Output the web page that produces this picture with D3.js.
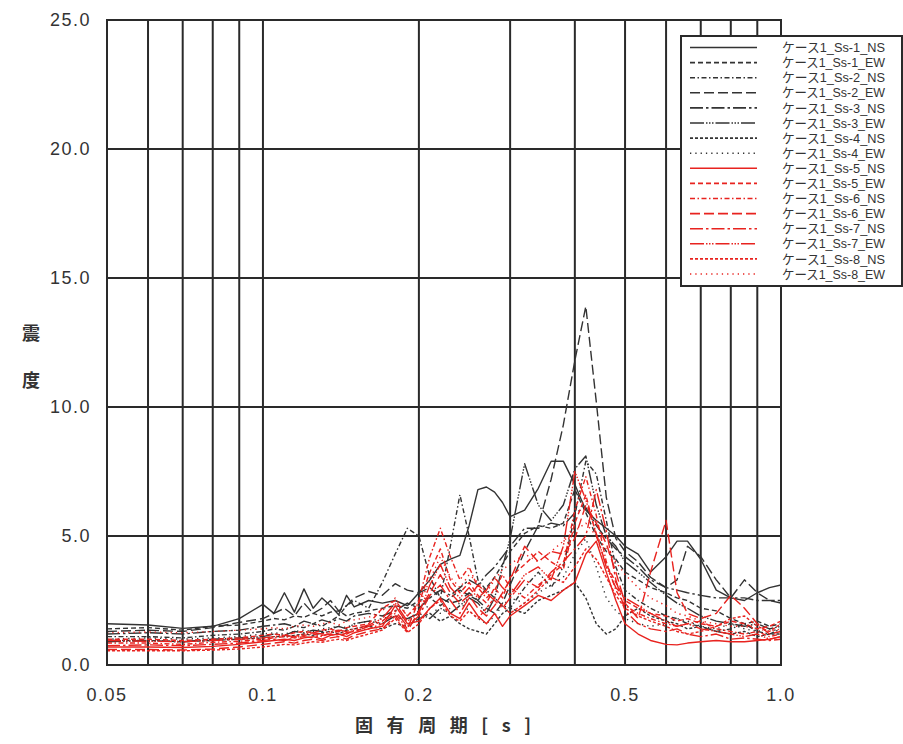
<!DOCTYPE html>
<html><head><meta charset="utf-8">
<script src="https://cdn.jsdelivr.net/npm/d3@7"></script>
<style>
html,body{margin:0;padding:0;background:#fff;}
svg{display:block;}
</style></head>
<body>
<svg id="chart" width="903" height="744"></svg>
<script>
// ---------- data ----------
const periods = [0.05,0.06,0.07,0.08,0.09,0.1,0.105,0.11,0.115,0.12,0.125,0.13,0.135,0.14,0.145,0.15,0.16,0.17,0.18,0.19,0.2,0.21,0.22,0.23,0.24,0.25,0.26,0.27,0.28,0.29,0.3,0.32,0.34,0.36,0.38,0.4,0.42,0.44,0.46,0.48,0.5,0.53,0.56,0.6,0.63,0.66,0.7,0.75,0.8,0.85,0.9,0.95,1.0];

const ss1NS = [1.6,1.55,1.42,1.5,1.8,2.35,2.0,2.8,2.05,2.95,2.2,2.6,2.3,1.95,2.7,2.25,2.5,2.4,2.5,2.3,2.8,3.3,3.9,4.1,4.25,5.4,6.8,6.9,6.7,6.3,5.75,6.0,6.85,7.9,7.9,7.0,6.0,5.6,5.3,5.0,4.6,4.3,3.6,4.2,4.8,4.8,4.1,2.9,2.6,2.5,2.8,3.0,3.1];
const ss1EW = [1.4,1.45,1.35,1.5,1.55,1.7,1.8,1.75,1.9,1.85,2.0,1.9,2.05,2.1,1.9,2.0,2.1,2.2,2.3,2.2,2.5,2.6,2.3,2.6,2.9,2.7,2.5,3.0,3.4,3.9,4.4,5.1,5.4,5.3,5.5,6.8,5.9,5.0,4.4,4.1,3.6,3.3,3.0,2.8,2.6,2.5,2.2,2.1,1.8,1.6,1.7,1.5,1.6];
const ss2NS = [1.1,1.1,1.05,1.15,1.2,1.3,1.4,1.35,1.5,1.45,1.6,1.5,1.7,1.9,2.3,2.5,2.2,3.2,4.3,5.3,5.0,3.4,2.6,4.6,6.6,5.0,3.3,2.9,2.6,2.3,2.2,3.0,3.6,3.0,3.8,5.8,7.9,7.4,5.6,3.8,2.9,2.5,2.2,1.9,1.8,1.6,1.5,1.3,1.4,1.6,1.3,1.2,1.4];
const ss2EW = [1.3,1.35,1.3,1.45,1.65,1.8,2.0,2.2,1.9,2.4,2.0,2.2,2.5,2.1,2.3,2.6,2.85,2.7,3.15,2.9,2.8,3.0,2.6,2.4,2.5,2.8,2.5,2.2,2.0,2.4,3.1,4.4,5.4,7.2,9.3,11.8,13.9,10.2,6.5,4.9,4.4,4.0,3.4,3.0,3.3,4.6,4.2,3.3,2.6,3.3,2.8,2.5,2.4];
const ss3NS = [1.2,1.25,1.2,1.3,1.35,1.5,1.55,1.6,1.5,1.7,1.6,1.75,1.65,1.8,1.7,1.9,2.0,1.9,2.1,2.4,2.2,2.6,2.9,2.7,3.0,3.3,3.1,3.5,3.8,4.2,4.6,5.3,5.3,5.5,5.4,5.9,6.1,5.4,4.9,4.5,4.2,3.8,3.3,3.0,2.9,2.8,2.7,2.6,2.6,2.6,2.5,2.5,2.5];
const ss3EW = [0.9,0.95,0.9,1.0,1.05,1.1,1.2,1.15,1.3,1.25,1.35,1.3,1.4,1.5,1.4,1.6,1.7,1.6,1.9,1.8,2.0,1.8,2.2,2.0,2.3,2.6,2.4,2.0,2.6,3.8,4.9,7.8,6.2,5.6,6.2,7.6,8.1,6.2,5.0,4.6,4.0,3.6,3.2,2.7,2.4,2.2,1.9,1.7,1.6,1.5,1.6,1.4,1.5];
const ss4NS = [0.95,0.95,0.9,0.95,1.0,1.05,1.1,1.1,1.15,1.2,1.15,1.25,1.3,1.2,1.35,1.4,1.5,1.4,1.6,1.5,1.8,2.0,1.7,1.9,1.6,1.4,1.3,1.2,1.6,2.0,2.2,2.0,2.5,2.7,2.9,3.2,2.6,1.6,1.2,1.4,1.9,2.2,1.9,1.7,1.6,1.4,1.5,1.3,1.2,1.3,1.1,1.2,1.2];
const ss4EW = [1.0,1.05,1.0,1.05,1.1,1.2,1.25,1.2,1.3,1.35,1.3,1.4,1.45,1.5,1.45,1.6,1.7,1.8,1.9,1.7,2.1,2.3,2.0,2.2,2.4,2.1,1.8,1.6,1.9,2.3,2.6,2.4,2.8,3.1,3.4,4.3,4.9,3.8,2.6,2.1,1.8,1.6,1.5,1.6,1.8,1.7,1.5,1.4,1.6,1.4,1.3,1.4,1.3];
const ss5NS = [0.7,0.7,0.68,0.72,0.8,0.9,0.95,1.0,0.95,1.05,1.1,1.0,1.15,1.2,1.1,1.25,1.4,1.5,2.3,1.6,1.7,2.2,2.6,2.0,1.8,2.4,1.9,1.6,2.0,1.5,1.9,2.3,2.7,2.5,2.9,3.2,4.3,4.8,3.6,2.5,1.6,1.2,0.95,0.8,0.78,0.85,0.9,0.95,0.9,0.9,0.95,1.0,1.1];
const ss5EW = [1.0,1.0,0.95,1.0,1.05,1.15,1.2,1.15,1.25,1.3,1.25,1.35,1.4,1.3,1.45,1.5,1.6,2.2,2.5,1.9,2.4,3.6,4.5,3.3,2.8,3.2,2.7,2.4,3.0,2.6,3.4,3.9,4.4,4.0,3.7,5.5,6.6,5.0,3.9,3.2,2.5,2.2,2.0,1.9,1.7,1.8,1.6,1.5,1.7,1.6,1.4,1.5,1.7];
const ss6NS = [0.85,0.85,0.8,0.88,0.92,1.0,1.05,1.1,1.05,1.15,1.2,1.1,1.25,1.3,1.2,1.35,1.4,1.6,2.0,1.4,2.5,4.2,5.3,4.2,3.3,3.8,3.0,2.6,2.9,3.5,3.0,2.6,3.1,3.5,3.9,6.0,7.3,5.8,4.0,2.9,2.3,2.0,1.8,1.6,1.5,1.6,1.7,1.4,1.3,1.2,1.3,1.1,1.2];
const ss6EW = [0.6,0.6,0.58,0.62,0.7,0.8,0.85,0.9,0.85,0.95,1.0,0.95,1.05,1.1,1.0,1.15,1.3,1.4,1.9,1.3,2.1,2.8,3.5,2.8,2.4,2.7,2.2,1.9,2.3,2.8,3.3,4.6,4.0,4.4,4.3,4.9,6.2,5.5,4.7,3.6,2.4,1.8,3.6,5.6,2.8,2.0,1.8,2.0,2.7,2.2,1.6,1.2,1.3];
const ss7NS = [0.75,0.78,0.75,0.8,0.85,0.95,1.0,0.95,1.05,1.1,1.05,1.15,1.2,1.1,1.25,1.3,1.5,1.7,2.1,1.5,1.9,2.7,3.1,2.5,2.0,2.6,3.1,2.8,2.5,2.2,2.6,3.3,3.0,3.6,4.0,4.5,5.0,6.8,5.2,3.3,2.1,1.6,1.4,1.3,1.4,1.2,1.1,1.2,1.0,1.05,1.0,0.95,1.0];
const ss7EW = [0.95,0.92,0.9,0.95,1.0,1.05,1.1,1.15,1.1,1.2,1.25,1.2,1.3,1.35,1.3,1.4,1.55,1.8,2.4,1.7,2.0,3.1,3.9,3.0,2.6,3.0,2.6,2.9,3.4,3.0,2.7,3.5,3.8,3.3,4.6,7.5,6.4,5.1,3.8,3.0,2.6,2.3,2.0,1.7,1.5,1.6,1.4,1.3,1.2,1.1,1.2,1.0,1.1];
const ss8NS = [0.55,0.55,0.55,0.58,0.62,0.7,0.75,0.8,0.78,0.85,0.9,0.88,0.95,1.0,0.95,1.05,1.2,1.35,1.8,1.25,1.6,2.2,2.5,1.9,1.7,2.1,1.8,2.2,2.6,2.3,2.0,2.4,2.9,3.4,3.2,3.8,4.5,4.1,3.4,2.7,2.2,1.9,1.7,1.5,1.3,1.2,1.3,1.5,1.8,1.9,1.5,1.3,1.6];
const ss8EW = [1.25,1.28,1.25,1.3,1.35,1.4,1.45,1.4,1.5,1.55,1.5,1.6,1.65,1.55,1.7,1.75,1.85,2.1,2.6,1.9,2.3,3.3,4.2,3.4,3.0,3.5,3.2,2.8,3.3,3.7,3.9,4.3,4.0,4.4,4.8,5.2,5.5,5.0,4.5,4.0,3.5,3.0,2.6,2.3,2.0,1.9,1.7,1.6,1.5,1.5,1.4,1.3,1.4];

const seriesNames = ["ケース1_Ss-1_NS","ケース1_Ss-1_EW","ケース1_Ss-2_NS","ケース1_Ss-2_EW","ケース1_Ss-3_NS","ケース1_Ss-3_EW","ケース1_Ss-4_NS","ケース1_Ss-4_EW","ケース1_Ss-5_NS","ケース1_Ss-5_EW","ケース1_Ss-6_NS","ケース1_Ss-6_EW","ケース1_Ss-7_NS","ケース1_Ss-7_EW","ケース1_Ss-8_NS","ケース1_Ss-8_EW"];
const seriesValues = [ss1NS,ss1EW,ss2NS,ss2EW,ss3NS,ss3EW,ss4NS,ss4EW,ss5NS,ss5EW,ss6NS,ss6EW,ss7NS,ss7EW,ss8NS,ss8EW];
const yTicks = [0,5,10,15,20,25];
const xTickLabels = [[0.05,"0.05"],[0.1,"0.1"],[0.2,"0.2"],[0.5,"0.5"],[1.0,"1.0"]];
const xGrid = [0.06,0.07,0.08,0.09,0.1,0.2,0.3,0.4,0.5,0.6,0.7,0.8,0.9];

// ---------- styles ----------
const dashes = ["", "5,3", "5,2.5,1.5,2.5", "10,4", "13,3,2.5,3", "14,2,1.5,1.5,1.5,1.5,1.5,2", "3,2", "1.3,4"];
const BLACK = "#333333", RED = "#e8231f", INK = "#2a2a2a";

const svg = d3.select("#chart");
const x = d3.scaleLog().domain([0.05, 1.0]).range([107, 781]);
const y = d3.scaleLinear().domain([0, 25]).range([665, 20]);

// grid
const grid = svg.append("g");
grid.selectAll("line.v").data(xGrid).join("line")
  .attr("x1", d => x(d)).attr("x2", d => x(d))
  .attr("y1", y(25)).attr("y2", y(0))
  .attr("stroke", INK).attr("stroke-width", 2);
grid.selectAll("line.h").data([5,10,15,20]).join("line")
  .attr("x1", x(0.05)).attr("x2", x(1.0))
  .attr("y1", d => y(d)).attr("y2", d => y(d))
  .attr("stroke", INK).attr("stroke-width", 2);

// clip
svg.append("clipPath").attr("id","clip").append("rect")
  .attr("x", x(0.05)).attr("y", y(25)).attr("width", x(1.0)-x(0.05)).attr("height", y(0)-y(25));

const line = d3.line().x(d => x(d[0])).y(d => y(d[1]));
const plot = svg.append("g").attr("clip-path","url(#clip)");
seriesValues.forEach((vals, i) => {
  const pts = periods.map((p, j) => [p, vals[j]]);
  plot.append("path").datum(pts)
    .attr("d", line)
    .attr("fill", "none")
    .attr("stroke", i < 8 ? BLACK : RED)
    .attr("stroke-width", 1.4)
    .attr("stroke-dasharray", dashes[i % 8] || null)
    .attr("stroke-linejoin", "round");
});

// border
svg.append("rect").attr("x", x(0.05)).attr("y", y(25))
  .attr("width", x(1.0)-x(0.05)).attr("height", y(0)-y(25))
  .attr("fill","none").attr("stroke", INK).attr("stroke-width", 2);

// y tick labels
svg.append("g").selectAll("text").data(yTicks).join("text")
  .attr("x", 91).attr("y", d => y(d)).attr("dy", "0.36em")
  .attr("text-anchor","end")
  .attr("font-family","'Liberation Sans', Arial, sans-serif")
  .attr("font-size", 18).attr("fill", "#333")
  .attr("letter-spacing", 1.5)
  .text(d => d.toFixed(1));

// x tick labels
svg.append("g").selectAll("text").data(xTickLabels).join("text")
  .attr("x", d => x(d[0])).attr("y", 695).attr("dy","0.36em")
  .attr("text-anchor","middle")
  .attr("font-family","'Liberation Sans', Arial, sans-serif")
  .attr("font-size", 18).attr("fill", "#333")
  .attr("letter-spacing", 1.5)
  .text(d => d[1]);

// axis titles
svg.append("text").attr("x", 443).attr("y", 726).attr("dy","0.36em")
  .attr("text-anchor","middle")
  .attr("font-family","'Noto Sans CJK JP', sans-serif")
  .attr("font-size", 18).attr("font-weight","bold").attr("fill","#333")
  .attr("textLength", 176).attr("lengthAdjust","spacing")
  .text("固有周期[s]");
const yTitle = svg.append("text")
  .attr("font-family","'Noto Sans CJK JP', sans-serif")
  .attr("font-size", 18).attr("font-weight","bold").attr("fill","#333")
  .attr("text-anchor","middle");
yTitle.append("tspan").attr("x", 31).attr("y", 340).text("震");
yTitle.append("tspan").attr("x", 31).attr("y", 387).text("度");

// legend
const lg = svg.append("g");
lg.append("rect").attr("x", 681).attr("y", 36).attr("width", 221).attr("height", 250)
  .attr("fill","#fff").attr("stroke", INK).attr("stroke-width", 2);
seriesNames.forEach((name, i) => {
  const yy = 47.5 + i * 15.1;
  lg.append("line").attr("x1", 690).attr("x2", 757).attr("y1", yy).attr("y2", yy)
    .attr("stroke", i < 8 ? BLACK : RED).attr("stroke-width", 1.6)
    .attr("stroke-dasharray", dashes[i % 8] || null);
  lg.append("text").attr("x", 782).attr("y", yy).attr("dy","0.36em")
    .attr("font-family","'Liberation Sans', 'Noto Sans CJK JP', sans-serif")
    .attr("font-size", 13).attr("fill","#333")
    .attr("textLength", 103).attr("lengthAdjust","spacingAndGlyphs")
    .text(name);
});
</script>
</body></html>
